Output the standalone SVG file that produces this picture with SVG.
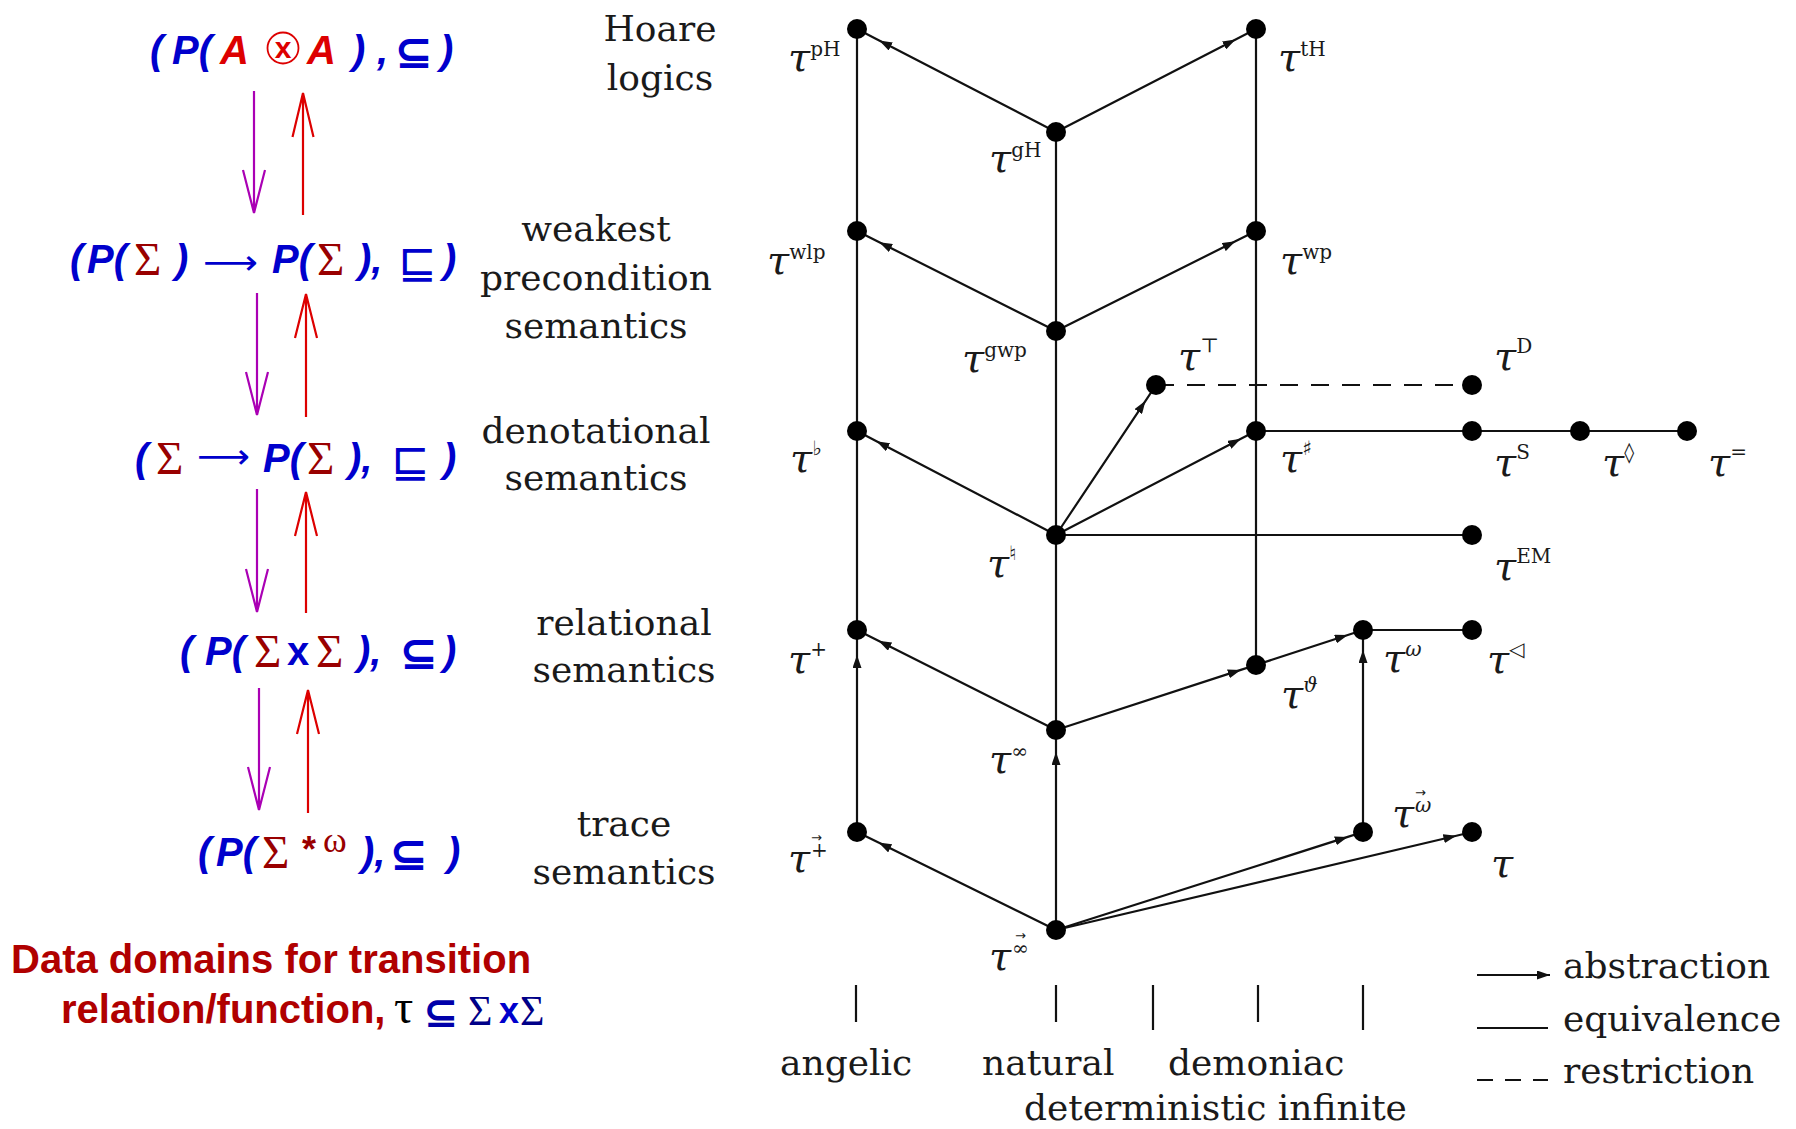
<svg xmlns="http://www.w3.org/2000/svg" width="1796" height="1129" viewBox="0 0 1796 1129">
<defs>
<style>
.bg{fill:#fff}
.edge{stroke:#111;stroke-width:2.2;fill:none}
.arr{marker-mid:url(#ah)}
.dash{stroke-dasharray:18 13}
.node circle{fill:#000}
.lbl{font-family:"DejaVu Serif",serif;font-size:36px;fill:#1a1a1a}
.tau{font-family:"DejaVu Serif",serif;font-style:italic;font-size:40px;fill:#1a1a1a}
.sup{font-style:normal;font-size:20px}
.supi{font-style:italic;font-size:20px}
.vec{font-family:"DejaVu Sans",sans-serif;font-style:normal;font-size:13px}
.f{font-family:"Liberation Sans",Arial,sans-serif;font-weight:bold;font-style:italic;font-size:40px;fill:#0000cc}
.up{font-style:normal}
.a{fill:#dd0000}
.sg{font-family:"Liberation Serif","Times New Roman",serif;font-weight:normal;font-style:normal;font-size:47px;fill:#990000}
.rel{font-family:"DejaVu Sans",sans-serif;font-weight:bold;font-style:normal;font-size:46px;fill:#0000cc}
.sq{font-family:"DejaVu Sans",sans-serif;font-weight:normal;font-style:normal;font-size:46px;fill:#0000cc}
.thin{font-family:"DejaVu Sans",sans-serif;font-weight:normal;font-style:normal;font-size:34px;fill:#0000cc}
.pu{stroke:#aa00b4;stroke-width:2.2;fill:none}
.rd{stroke:#dd0000;stroke-width:2.2;fill:none}
.cap{font-family:"Liberation Sans",Arial,sans-serif;font-weight:bold;font-size:40px;fill:#b00000}
</style>
<marker id="ah" viewBox="0 0 13 9" refX="13" refY="4.5" markerWidth="13" markerHeight="9" orient="auto" markerUnits="userSpaceOnUse"><path d="M0,0 L13,4.5 L0,9 z" fill="#111"/></marker>
</defs>
<rect class="bg" x="0" y="0" width="1796" height="1129"/>

<!-- left: data domains -->
<g id="dom1">
<text class="f" y="64"><tspan x="150">(</tspan><tspan x="172">P(</tspan><tspan x="220" class="a">A</tspan><tspan x="307" class="a">A</tspan><tspan x="352">)</tspan><tspan x="377">,</tspan></text>
<circle cx="283" cy="48" r="15.5" fill="none" stroke="#dd0000" stroke-width="1.8"/>
<text x="283" y="58" text-anchor="middle" font-family="Liberation Sans,Arial,sans-serif" font-weight="bold" font-size="30" fill="#dd0000">x</text>
<text class="rel" x="394" y="68">⊆</text>
<text class="f" x="440" y="64">)</text>
</g>
<g id="dom2">
<text class="f" y="273"><tspan x="70">(</tspan><tspan x="87">P(</tspan><tspan x="175">)</tspan><tspan x="272">P(</tspan><tspan x="358">),</tspan><tspan x="443">)</tspan></text>
<text class="sg" x="134" y="275">Σ</text>
<text class="sg" x="317" y="275">Σ</text>
<text class="thin" x="203" y="274" textLength="55" lengthAdjust="spacingAndGlyphs">⟶</text>
<text class="sq" x="398" y="278">⊑</text>
</g>
<g id="dom3">
<text class="f" y="472"><tspan x="135">(</tspan><tspan x="263">P(</tspan><tspan x="348">),</tspan><tspan x="443">)</tspan></text>
<text class="sg" x="156" y="474">Σ</text>
<text class="sg" x="307" y="474">Σ</text>
<text class="thin" x="197" y="468" textLength="53" lengthAdjust="spacingAndGlyphs">⟶</text>
<text class="sq" x="391" y="477">⊑</text>
</g>
<g id="dom4">
<text class="f" y="665"><tspan x="180">(</tspan><tspan x="205">P(</tspan><tspan x="287" class="up">x</tspan><tspan x="357">),</tspan><tspan x="443">)</tspan></text>
<text class="sg" x="254" y="667">Σ</text>
<text class="sg" x="316" y="667">Σ</text>
<text class="rel" x="399" y="669">⊆</text>
</g>
<g id="dom5">
<text class="f" y="866"><tspan x="198">(</tspan><tspan x="216">P(</tspan><tspan x="361">),</tspan><tspan x="447">)</tspan></text>
<text class="sg" x="262" y="868">Σ</text>
<text x="302" y="862" font-family="Liberation Sans,Arial,sans-serif" font-weight="bold" font-size="36" fill="#990000">*</text>
<text x="323" y="852" font-family="Liberation Serif,Times New Roman,serif" font-size="36" fill="#990000">ω</text>
<text class="rel" x="389" y="870">⊆</text>
</g>
<g id="dom-arrows">
<path class="pu" d="M254,91 V213 M243,170 L254,213 L265,170"/>
<path class="rd" d="M303,215 V93 M292.5,137 L303,93 L313.5,137"/>
<path class="pu" d="M257,293 V415 M246,372 L257,415 L268,372"/>
<path class="rd" d="M306,417 V294 M295,338 L306,294 L317,338"/>
<path class="pu" d="M257,489 V612 M246,569 L257,612 L268,569"/>
<path class="rd" d="M306,613 V492 M295,536 L306,492 L317,536"/>
<path class="pu" d="M259,688 V810 M248,767 L259,810 L270,767"/>
<path class="rd" d="M308,813 V690 M297,734 L308,690 L319,734"/>
</g>
<g id="caption">
<text class="cap" x="11" y="973">Data domains for transition</text>
<text y="1023"><tspan class="cap" x="61">relation/function,</tspan><tspan x="394" font-family="Liberation Serif,Times New Roman,serif" font-size="48" fill="#000">τ</tspan></text>
<text x="423" y="1027" font-family="DejaVu Sans,sans-serif" font-weight="bold" font-size="42" fill="#0000aa">⊆</text>
<text x="468" y="1025" font-family="Liberation Serif,Times New Roman,serif" font-size="42" fill="#000088">Σ</text>
<text x="499" y="1023" font-family="Liberation Sans,Arial,sans-serif" font-weight="bold" font-size="36" fill="#0000cc">x</text>
<text x="520" y="1025" font-family="Liberation Serif,Times New Roman,serif" font-size="42" fill="#000088">Σ</text>
</g>

<!-- row labels -->
<g id="row-labels" class="lbl" text-anchor="middle">
<text x="660" y="41">Hoare</text>
<text x="660" y="90">logics</text>
<text x="596" y="241">weakest</text>
<text x="596" y="290">precondition</text>
<text x="596" y="338">semantics</text>
<text x="596" y="443">denotational</text>
<text x="596" y="490">semantics</text>
<text x="624" y="635">relational</text>
<text x="624" y="682">semantics</text>
<text x="624" y="836">trace</text>
<text x="624" y="884">semantics</text>
</g>

<!-- connectors -->
<g id="connectors">
<path class="edge" d="M857,29 V630"/>
<path class="edge" d="M1056,132 V730"/>
<path class="edge" d="M1256,29 V665"/>
<path class="edge" d="M1056,535 H1472"/>
<path class="edge" d="M1256,431 H1687"/>
<path class="edge" d="M1363,630 H1472"/>
<path class="edge dash" d="M1156,385 H1472"/>
<path class="edge arr" d="M1056,132 L879.2,40.5 L857,29"/>
<path class="edge arr" d="M1056,132 L1235.6,39.5 L1256,29"/>
<path class="edge arr" d="M1056,331 L879.3,242.2 L857,231"/>
<path class="edge arr" d="M1056,331 L1235.4,241.3 L1256,231"/>
<path class="edge arr" d="M1056,535 L876.5,441.2 L857,431"/>
<path class="edge arr" d="M1056,535 L1145.5,400.8 L1156,385"/>
<path class="edge arr" d="M1056,535 L1240.9,438.8 L1256,431"/>
<path class="edge arr" d="M1056,730 L878.4,640.8 L857,630"/>
<path class="edge arr" d="M1056,730 L1240.8,669.9 L1256,665"/>
<path class="edge arr" d="M1256,665 L1347.8,635 L1363,630"/>
<path class="edge arr" d="M857,832 L857,655 L857,630"/>
<path class="edge arr" d="M1056,930 L1056,752 L1056,730"/>
<path class="edge arr" d="M1363,832 L1363,650 L1363,630"/>
<path class="edge arr" d="M1056,930 L878.5,842.6 L857,832"/>
<path class="edge arr" d="M1056,930 L1347.8,836.9 L1363,832"/>
<path class="edge arr" d="M1056,930 L1456.4,835.7 L1472,832"/>
</g>

<!-- nodes -->
<g id="n-pH" class="node"><circle cx="857" cy="29" r="10"/><text class="tau" x="788" y="71">τ<tspan class="sup" dy="-15">pH</tspan></text></g>
<g id="n-tH" class="node"><circle cx="1256" cy="29" r="10"/><text class="tau" x="1278" y="71">τ<tspan class="sup" dy="-15">tH</tspan></text></g>
<g id="n-gH" class="node"><circle cx="1056" cy="132" r="10"/><text class="tau" x="989" y="172">τ<tspan class="sup" dy="-15">gH</tspan></text></g>
<g id="n-wlp" class="node"><circle cx="857" cy="231" r="10"/><text class="tau" x="767" y="274">τ<tspan class="sup" dy="-15">wlp</tspan></text></g>
<g id="n-wp" class="node"><circle cx="1256" cy="231" r="10"/><text class="tau" x="1280" y="274">τ<tspan class="sup" dy="-15">wp</tspan></text></g>
<g id="n-gwp" class="node"><circle cx="1056" cy="331" r="10"/><text class="tau" x="962" y="372">τ<tspan class="sup" dy="-15">gwp</tspan></text></g>
<g id="n-top" class="node"><circle cx="1156" cy="385" r="10"/><text class="tau" x="1178" y="370">τ<tspan class="sup" dy="-18">⊤</tspan></text></g>
<g id="n-D" class="node"><circle cx="1472" cy="385" r="10"/><text class="tau" x="1494" y="370">τ<tspan class="sup" dy="-17">D</tspan></text></g>
<g id="n-flat" class="node"><circle cx="857" cy="431" r="10"/><text class="tau" x="790" y="472">τ<tspan class="sup" dy="-17">♭</tspan></text></g>
<g id="n-sharp" class="node"><circle cx="1256" cy="431" r="10"/><text class="tau" x="1280" y="472">τ<tspan class="sup" dy="-17">♯</tspan></text></g>
<g id="n-S" class="node"><circle cx="1472" cy="431" r="10"/><text class="tau" x="1494" y="476">τ<tspan class="sup" dy="-17">S</tspan></text></g>
<g id="n-diam" class="node"><circle cx="1580" cy="431" r="10"/><text class="tau" x="1602" y="476">τ<tspan class="sup" dy="-17">◊</tspan></text></g>
<g id="n-eq" class="node"><circle cx="1687" cy="431" r="10"/><text class="tau" x="1708" y="476">τ<tspan class="sup" dy="-17">=</tspan></text></g>
<g id="n-nat" class="node"><circle cx="1056" cy="535" r="10"/><text class="tau" x="987" y="577">τ<tspan class="sup" dy="-17">♮</tspan></text></g>
<g id="n-EM" class="node"><circle cx="1472" cy="535" r="10"/><text class="tau" x="1494" y="580">τ<tspan class="sup" dy="-17">EM</tspan></text></g>
<g id="n-plus" class="node"><circle cx="857" cy="630" r="10"/><text class="tau" x="788" y="673">τ<tspan class="sup" dy="-17">+</tspan></text></g>
<g id="n-omega" class="node"><circle cx="1363" cy="630" r="10"/><text class="tau" x="1383" y="672">τ<tspan class="supi" dy="-16">ω</tspan></text></g>
<g id="n-tri" class="node"><circle cx="1472" cy="630" r="10"/><text class="tau" x="1487" y="673">τ<tspan class="sup" dy="-17">◁</tspan></text></g>
<g id="n-theta" class="node"><circle cx="1256" cy="665" r="10"/><text class="tau" x="1281" y="708">τ<tspan class="supi" dy="-16">ϑ</tspan></text></g>
<g id="n-inf" class="node"><circle cx="1056" cy="730" r="10"/><text class="tau" x="989" y="773">τ<tspan class="sup" dy="-15">∞</tspan></text></g>
<g id="n-tplus" class="node"><circle cx="857" cy="832" r="10"/><text class="tau" x="788" y="872">τ<tspan class="sup" x="811" y="857">+</tspan><tspan class="vec" x="811" y="842">→</tspan></text></g>
<g id="n-tomega" class="node"><circle cx="1363" cy="832" r="10"/><text class="tau" x="1392" y="827">τ<tspan class="supi" x="1415" y="812">ω</tspan><tspan class="vec" x="1415" y="797">→</tspan></text></g>
<g id="n-tau" class="node"><circle cx="1472" cy="832" r="10"/><text class="tau" x="1491" y="877">τ</text></g>
<g id="n-tinf" class="node"><circle cx="1056" cy="930" r="10"/><text class="tau" x="989" y="970">τ<tspan class="sup" x="1012" y="955">∞</tspan><tspan class="vec" x="1015" y="940">→</tspan></text></g>

<!-- axis -->
<g id="axis">
<path class="edge" d="M856,985 V1022 M1056,985 V1022 M1153,985 V1030 M1258,985 V1022 M1363,985 V1030" stroke-width="2"/>
<g class="lbl">
<text x="780" y="1075">angelic</text>
<text x="982" y="1075">natural</text>
<text x="1168" y="1075">demoniac</text>
<text x="1024" y="1120">deterministic infinite</text>
</g>
</g>

<!-- legend -->
<g id="legend">
<path class="edge" d="M1477,975 H1550" marker-end="url(#ah)"/>
<path class="edge" d="M1477,1028 H1548"/>
<path class="edge" d="M1477,1080 H1548" stroke-dasharray="16 12"/>
<g class="lbl">
<text x="1563" y="978">abstraction</text>
<text x="1563" y="1031">equivalence</text>
<text x="1563" y="1083">restriction</text>
</g>
</g>
</svg>
